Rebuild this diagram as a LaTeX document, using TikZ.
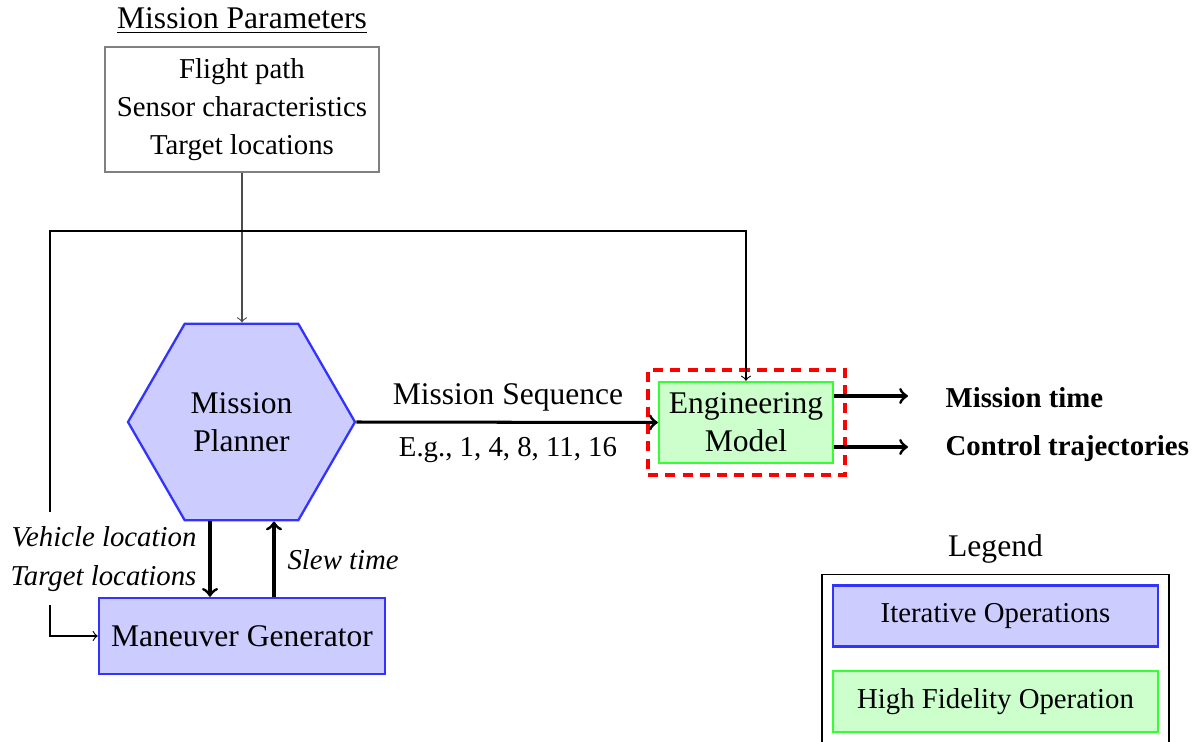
\documentclass[tikz,border=0pt]{standalone}
\usepackage{fontspec}
\setmainfont{Liberation Serif}
\usetikzlibrary{shapes.geometric}
\def\pxu{0.3472pt}
\newcommand\nsz{\fontsize{10}{13.3}\selectfont}
\newcommand\lsz{\fontsize{10.95}{13.3}\selectfont}
\begin{document}
\begin{tikzpicture}[x=0.3472pt,y=-0.3472pt, >=to,
  iter/.style={draw=blue!80, fill=blue!20, line width=0.8pt},
  hifi/.style={draw=green!80, fill=green!20, line width=0.8pt},
  flow/.style={->, line width=1.05pt},
  fb/.style={->, line width=0.4pt},
  lbl/.style={font=\nsz, inner sep=0},
]
\useasboundingbox (0,0) rectangle (1201,742);
% mission parameters
\node[font=\lsz, inner sep=0, anchor=base] (title) at (242,28) {\underline{Mission Parameters}};
\node[draw=gray, line width=0.5pt, minimum width=274*\pxu, minimum height=125*\pxu,
      align=center, font=\nsz, inner sep=0] (P) at (242,109.5)
      {Flight path\\Sensor characteristics\\Target locations};
% planner
\node[regular polygon, regular polygon sides=6, iter, minimum size=227*\pxu,
      inner sep=0, align=center, font=\lsz] (H) at (241.5,422) {Mission\\Planner};
\node[iter, minimum width=286*\pxu, minimum height=76*\pxu, font=\lsz, inner sep=0]
      (MG) at (242,636) {Maneuver Generator};
% engineering model
\node[draw=red, line width=1.2pt, dash pattern=on 3.5pt off 2.5pt,
      minimum width=197*\pxu, minimum height=105*\pxu] (HL) at (746.5,422.5) {};
\node[hifi, minimum width=174*\pxu, minimum height=81*\pxu, font=\lsz, align=center,
      inner sep=0] (EM) at (746,422.5) {Engineering\\Model};
% labels
\node[font=\lsz, inner sep=0, anchor=base] (MS) at (508,404) {Mission Sequence};
\node[lbl, anchor=base] (EG) at (508,456) {E.g., 1, 4, 8, 11, 16};
\node[font=\nsz\bfseries, inner sep=0, anchor=base west] (O1) at (945,407) {Mission time};
\node[font=\nsz\bfseries, inner sep=0, anchor=base west] (O2) at (945,455) {Control trajectories};
\node[font=\nsz\itshape, inner sep=0, anchor=base east] (V1) at (197,546) {Vehicle location};
\node[font=\nsz\itshape, inner sep=0, anchor=base east] (V2) at (197,585) {Target locations};
\node[font=\nsz\itshape, inner sep=0, anchor=base west] (SL) at (287,569) {Slew time};
% legend
\node[font=\lsz, inner sep=0, anchor=base] (LT) at (995.5,556) {Legend};
\node[draw, line width=0.4pt, minimum width=347*\pxu, minimum height=190*\pxu,
      anchor=north] (LB) at (995.5,574) {};
\node[iter, minimum width=325*\pxu, minimum height=61*\pxu, font=\nsz, inner sep=0]
      (L1) at (995.5,616) {Iterative Operations};
\node[hifi, minimum width=325*\pxu, minimum height=61*\pxu, font=\nsz, inner sep=0]
      (L2) at (995.5,701.5) {High Fidelity Operation};
% connectors
\coordinate (dn) at (210,0);
\coordinate (up) at (274,0);
\coordinate (a1) at (908,396);
\coordinate (a2) at (908,447);
\coordinate (c1) at (50,512);
\coordinate (c2) at (50,605);
\coordinate (tl) at (50,231);
\draw[->, black!70, line width=0.4pt] (P.south) -- (P.south |- H.north);
\draw[flow] (H.east) -- (EM.west);
\draw[flow] (dn |- H.south) -- (dn |- MG.north);
\draw[flow] (up |- MG.north) -- (up |- H.south);
\draw[flow] (EM.east |- a1) -- (a1);
\draw[flow] (EM.east |- a2) -- (a2);
\draw[fb] (c1) -- (tl) -| (EM.north);
\draw[fb] (c2) |- (MG.west);
\end{tikzpicture}
\end{document}
